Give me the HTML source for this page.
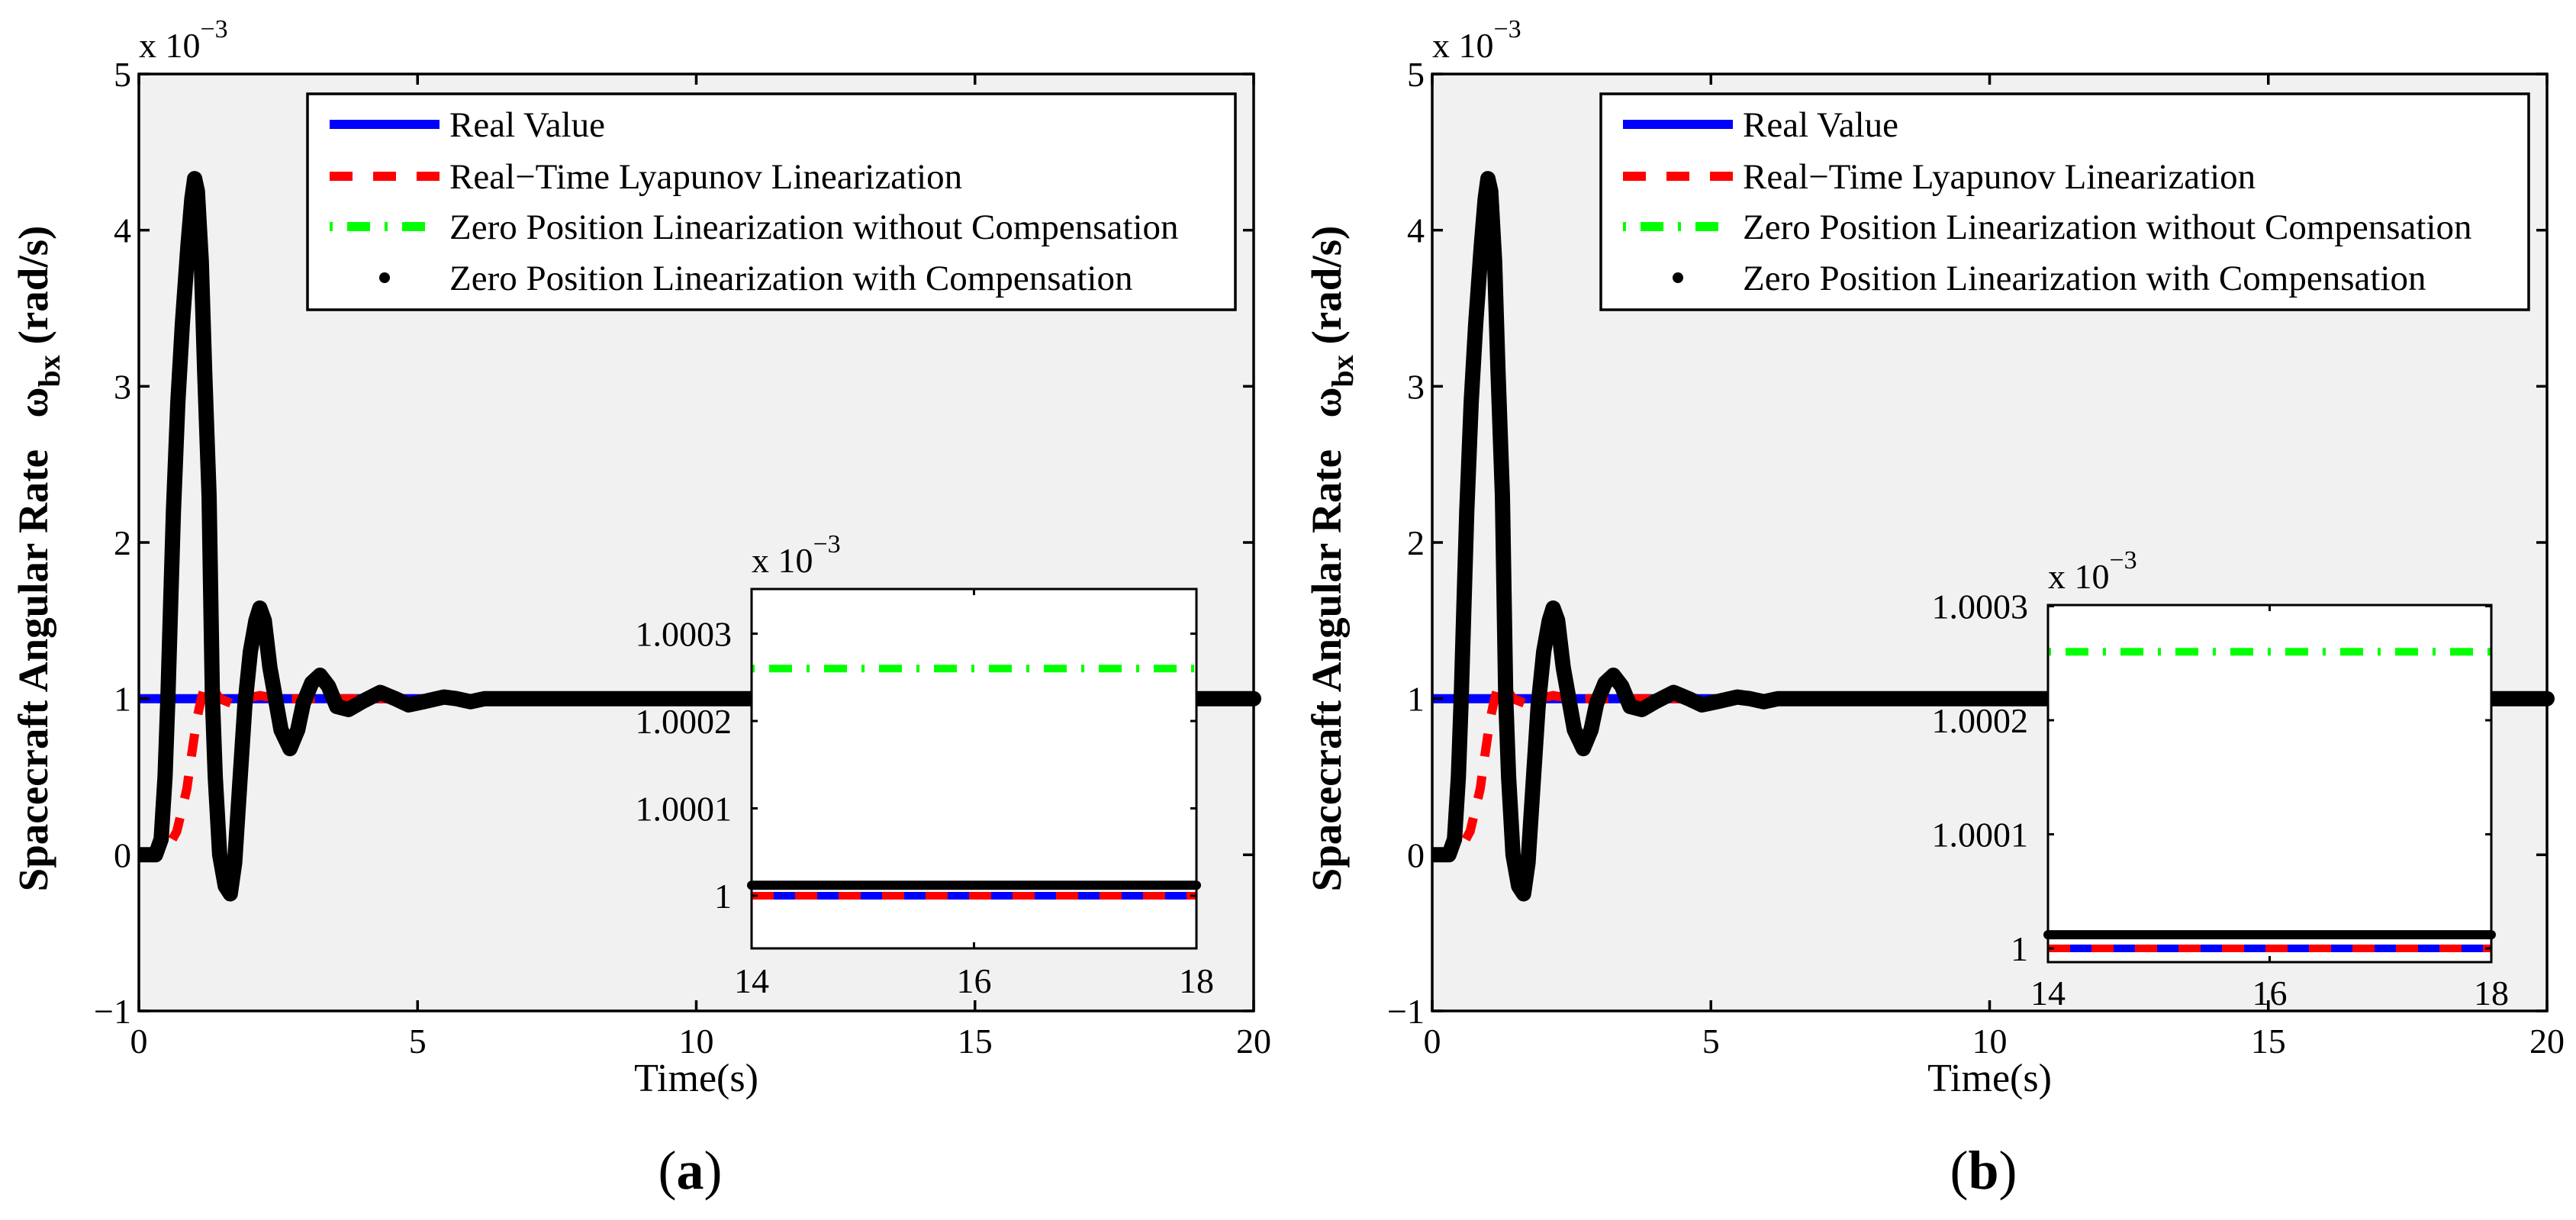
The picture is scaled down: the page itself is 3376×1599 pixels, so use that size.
<!DOCTYPE html>
<html><head><meta charset="utf-8"><style>
html,body{margin:0;padding:0;background:#fff;}
svg{display:block;}
text{font-family:"Liberation Serif",serif;fill:#000;}
</style></head><body>
<svg id="fig" width="3376" height="1599" viewBox="0 0 3376 1599" xmlns="http://www.w3.org/2000/svg"></svg>
<script>
// ---- data (values in units of 1e-3 rad/s) ----
const blackT = [0,0.3,0.4,0.47,0.52,0.57,0.62,0.7,0.78,0.88,0.95,1.0,1.05,1.12,1.18,1.26,1.32,1.37,1.45,1.55,1.64,1.72,1.8,1.9,2.0,2.1,2.17,2.25,2.35,2.45,2.55,2.71,2.85,2.95,3.1,3.25,3.4,3.55,3.76,4.0,4.33,4.6,4.84,5.1,5.47,5.7,5.95,6.2,20];
const blackV = [0,0,0.1,0.5,1.0,1.6,2.2,2.9,3.4,3.9,4.2,4.33,4.25,3.8,3.1,2.3,1.0,0.5,0.0,-0.2,-0.25,-0.05,0.4,0.95,1.3,1.5,1.58,1.5,1.2,1.0,0.8,0.68,0.8,0.97,1.1,1.15,1.08,0.95,0.93,0.98,1.04,1.0,0.96,0.98,1.01,1.0,0.98,1.0,1.0];
const redT = [0,0.45,0.68,0.86,0.95,1.04,1.12,1.2,1.3,1.45,1.66,1.9,2.17,2.5,20];
const redV = [0,0,0.15,0.42,0.65,0.87,1.0,1.1,1.08,1.0,0.97,1.0,1.02,1.0,1.0];
const blueT = [0,20];
const blueV = [1,1];
const xTicks = [0,5,10,15,20];
const yTicks = [-1,0,1,2,3,4,5];
// inset data
const insetT = [14,18];
const insetBlue = [1.0,1.0];
const insetRed = [1.0,1.0];
const insetGreen = [1.00026,1.00026];
const insetBlack = [1.000012,1.000012];
const insetXTicks = [14,16,18];
const insetYTicks = [1,1.0001,1.0002,1.0003];
const insetYLabels = ["1","1.0001","1.0002","1.0003"];
const legendLabels = ["Real Value","Real\u2212Time Lyapunov Linearization","Zero Position Linearization without Compensation","Zero Position Linearization with Compensation"];

const NS="http://www.w3.org/2000/svg";
const svg=document.getElementById('fig');
function mk(tag,attrs,parent){const e=document.createElementNS(NS,tag);for(const k in attrs)e.setAttribute(k,attrs[k]);(parent||svg).appendChild(e);return e;}

function drawPanel(ox, ins, cap){
  const g=mk('g',{});
  
  
  const L=182+ox,R=1643+ox,T=97,B=1325;
  const sx=t=>L+(t-0)/(20-0)*(R-L);
  const sy=v=>B-(v-(-1))/(5-(-1))*(B-T);
  const bg=mk('rect',{x:L,y:T,width:R-L,height:B-T,fill:'#f1f1f1'},g);
  
  
  const clip='clip'+cap;
  const cp=mk('clipPath',{id:clip},g);mk('rect',{x:L,y:T-20,width:R-L+20,height:B-T+20},cp);
  const pts=(T_,V_,fx,fy)=>T_.map((t,i)=>fx(t).toFixed(1)+','+fy(V_[i]).toFixed(1)).join(' ');
  const blue=mk('polyline',{points:pts(blueT,blueV,sx,sy),fill:'none',stroke:'#0000ff','stroke-width':12},g);
  
  
  const red=mk('polyline',{points:pts(redT,redV,sx,sy),fill:'none',stroke:'#ff0000','stroke-width':12,'stroke-dasharray':'30 26'},g);
  
  
  const blk=mk('polyline',{points:pts(blackT,blackV,sx,sy),fill:'none',stroke:'#000','stroke-width':20,'stroke-linejoin':'round','stroke-linecap':'round','clip-path':'url(#'+clip+')'},g);
  
  
  // axes box
  const box=mk('rect',{x:L,y:T,width:R-L,height:B-T,fill:'none',stroke:'#000','stroke-width':3.5},g);
  
  
  xTicks.forEach(t=>{
    const x=sx(t);
    mk('line',{x1:x,y1:B,x2:x,y2:B-14,stroke:'#000','stroke-width':3.5},g);
    mk('line',{x1:x,y1:T,x2:x,y2:T+14,stroke:'#000','stroke-width':3.5},g);
    const tx=mk('text',{x:x,y:1380,'font-size':46,'text-anchor':'middle'},g);tx.textContent=t;
    
    
  });
  yTicks.forEach(v=>{
    const y=sy(v);
    mk('line',{x1:L,y1:y,x2:L+14,y2:y,stroke:'#000','stroke-width':3.5},g);
    mk('line',{x1:R,y1:y,x2:R-14,y2:y,stroke:'#000','stroke-width':3.5},g);
    const tx=mk('text',{x:L-10,y:y+16,'font-size':46,'text-anchor':'end'},g);tx.textContent=(v<0?'\u2212'+(-v):v);
    
    
  });
  const ex=mk('text',{x:L,y:75,'font-size':46},g);
  
  
  ex.innerHTML='x 10<tspan dy="-26" font-size="34">\u22123</tspan>';
  // y label
  const yl=mk('text',{transform:'translate('+(62+ox)+',732) rotate(-90)','font-size':55,'font-weight':'bold','text-anchor':'middle'},g);
  
  
  yl.innerHTML='Spacecraft Angular Rate \u00a0 \u03c9<tspan dy="16" font-size="40">bx</tspan><tspan dy="-16"> (rad/s)</tspan>';
  const xl=mk('text',{x:(L+R)/2,y:1430,'font-size':52,'text-anchor':'middle'},g);xl.textContent='Time(s)';
  
  
  const cp2=mk('text',{x:(L+R)/2-8,y:1558,'font-size':72,'text-anchor':'middle'},g);
  
  
  cp2.innerHTML='(<tspan font-weight="bold">'+cap+'</tspan>)';
  // legend
  const lx=L+221, ly=123, lw=1216, lh=283;
  const lg=mk('g',{},g);
  
  
  mk('rect',{x:lx,y:ly,width:lw,height:lh,fill:'#fff',stroke:'#000','stroke-width':3.5},lg);
  const rows=[40,108,174,241];
  const sx1=lx+29, sx2=lx+173;
  const styles=[{stroke:'#0000ff','stroke-width':12},{stroke:'#ff0000','stroke-width':12,'stroke-dasharray':'30 27'},{stroke:'#00ff00','stroke-width':12,'stroke-dasharray':'4 19 30 19'},null];
  rows.forEach((dy,i)=>{
    const y=ly+dy;
    if(styles[i]){const s=Object.assign({x1:sx1,y1:y,x2:sx2,y2:y},styles[i]);mk('line',s,lg);}
    else{mk('circle',{cx:(sx1+sx2)/2,cy:y,r:7,fill:'#000'},lg);}
    const t=mk('text',{x:lx+186,y:y+16,'font-size':47},lg);t.textContent=legendLabels[i];
    
    
  });
  // inset
  const ig=mk('g',{},g);
  
  
  const iL=ins.L,iR=ins.R,iT=ins.T,iB=ins.B;
  const isx=t=>iL+(t-14)/(18-14)*(iR-iL);
  const isy=v=>ins.y1-(v-1)/0.0001*ins.per;
  mk('rect',{x:iL,y:iT,width:iR-iL,height:iB-iT,fill:'#fff'},ig);
  const ib=mk('polyline',{points:pts(insetT,insetBlue,isx,isy),fill:'none',stroke:'#0000ff','stroke-width':10},ig);
  
  
  const ir=mk('polyline',{points:pts(insetT,insetRed,isx,isy),fill:'none',stroke:'#ff0000','stroke-width':10,'stroke-dasharray':'29 28'},ig);
  
  
  const igr=mk('polyline',{points:pts(insetT,insetGreen,isx,isy),fill:'none',stroke:'#00ff00','stroke-width':10,'stroke-dasharray':'4 19 30 19'},ig);
  
  
  const ibk=mk('polyline',{points:pts(insetT,insetBlack,isx,isy),fill:'none',stroke:'#000','stroke-width':12,'stroke-linecap':'round'},ig);
  
  
  mk('rect',{x:iL,y:iT,width:iR-iL,height:iB-iT,fill:'none',stroke:'#000','stroke-width':3},ig);
  insetXTicks.forEach(t=>{
    const x=isx(t);
    mk('line',{x1:x,y1:iB,x2:x,y2:iB-8,stroke:'#000','stroke-width':3},ig);
    mk('line',{x1:x,y1:iT,x2:x,y2:iT+8,stroke:'#000','stroke-width':3},ig);
    const tx=mk('text',{x:x,y:iB+ins.xlab,'font-size':46,'text-anchor':'middle'},ig);tx.textContent=t;
    
    
  });
  insetYTicks.forEach((v,i)=>{
    const y=isy(v);
    mk('line',{x1:iL,y1:y,x2:iL+8,y2:y,stroke:'#000','stroke-width':3},ig);
    mk('line',{x1:iR,y1:y,x2:iR-8,y2:y,stroke:'#000','stroke-width':3},ig);
    const tx=mk('text',{x:iL-26,y:y+16,'font-size':46,'text-anchor':'end'},ig);tx.textContent=insetYLabels[i];
    
    
  });
  const iex=mk('text',{x:iL,y:iT-22,'font-size':46},ig);
  
  
  iex.innerHTML='x 10<tspan dy="-26" font-size="34">\u22123</tspan>';
}
drawPanel(0,{L:985,R:1568,T:772,B:1243,y1:1174,per:114.5,xlab:58},'a');
drawPanel(1695,{L:2684,R:3265,T:793,B:1261,y1:1243,per:149.5,xlab:56},'b');
</script>
</body></html>
